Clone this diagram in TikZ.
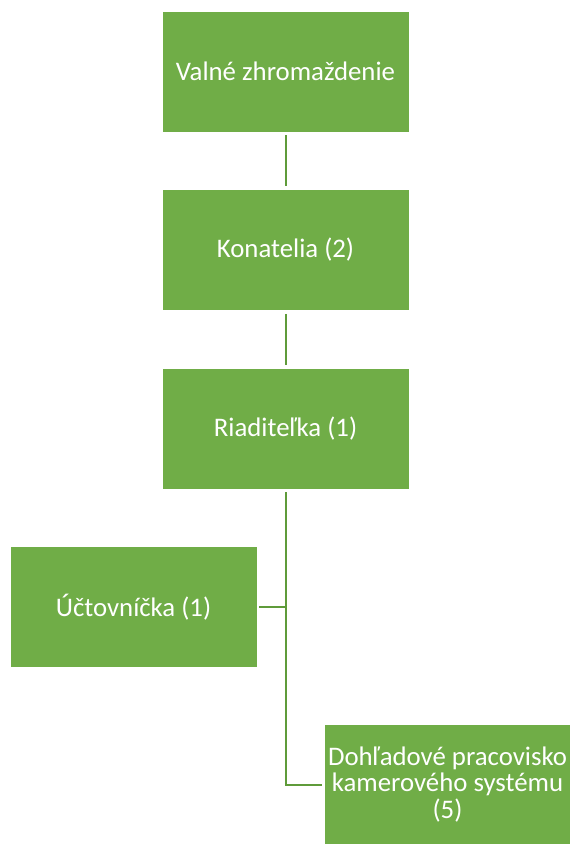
\documentclass[tikz,border=0pt]{standalone}
\usepackage{fontspec}
\setmainfont{Carlito}
\definecolor{boxgreen}{HTML}{70AD47}
\definecolor{linegreen}{HTML}{5F9B3A}
\begin{document}
\begin{tikzpicture}[x=1pt,y=-1pt,
  orgbox/.style={rectangle, fill=boxgreen, draw=white, line width=0.8pt,
    minimum width=247pt, minimum height=121pt, inner sep=2pt,
    text=white, align=center, font=\fontsize{26.8}{26.8}\selectfont},
  conn/.style={draw=linegreen, line width=2pt}]
\useasboundingbox (0,0) rectangle (570,844);
\node[orgbox] (v) at (285.5,71.5) {Valné zhromaždenie};
\node[orgbox] (k) at (285.5,250) {Konatelia (2)};
\node[orgbox] (r) at (285.5,428.5) {Riaditeľka (1)};
\node[orgbox] (u) at (133.5,607) {Účtovníčka (1)};
\node[orgbox] (d) at (447.5,784.5) {Dohľadové pracovisko\\kamerového systému\\(5)};
\coordinate (j1) at (285.5,607);
\coordinate (j2) at (285.5,785);
\draw[conn] ([yshift=-3pt]v.south) -- ([yshift=3pt]k.north);
\draw[conn] ([yshift=-3pt]k.south) -- ([yshift=3pt]r.north);
\draw[conn] ([yshift=-3pt]r.south) -- (j2) -- ([xshift=-2pt]d.west |- j2);
\draw[conn] (j1) -- ([xshift=2pt]u.east |- j1);
\end{tikzpicture}
\end{document}
